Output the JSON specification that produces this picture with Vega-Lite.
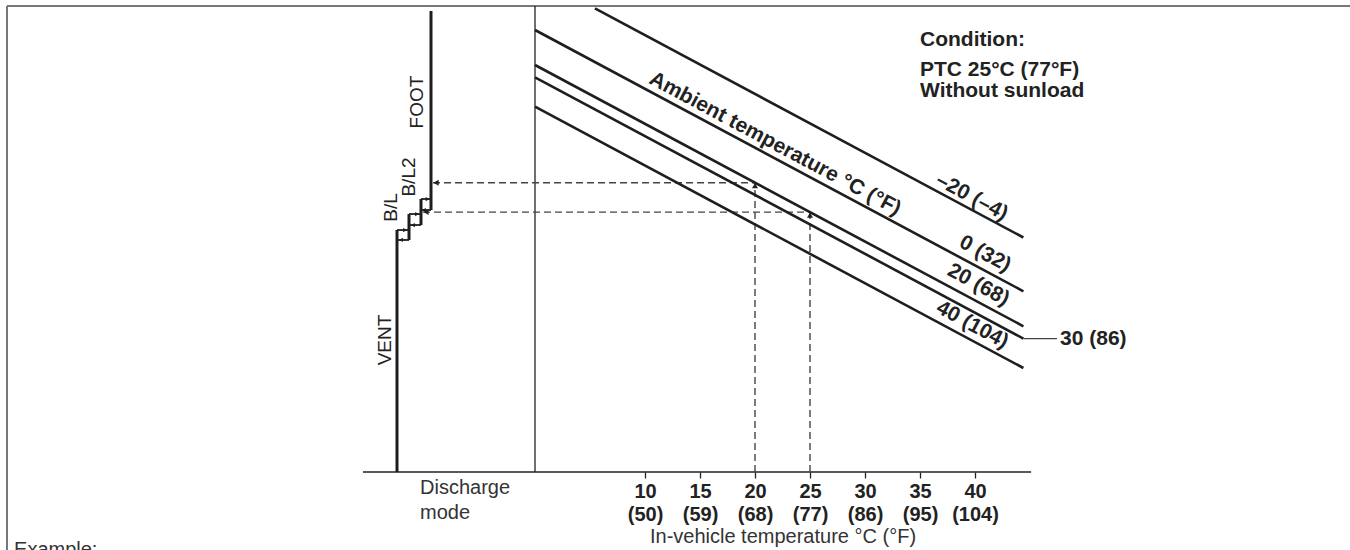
{
  "$schema": "https://vega.github.io/schema/vega-lite/v6.json",
  "width": 495,
  "height": 466,
  "autosize": {"type": "none"},
  "padding": {"left": 535, "top": 6, "right": 320, "bottom": 78},
  "background": "white",
  "config": {"view": {"stroke": null}, "font": "Liberation Sans"},
  "datasets": {
    "ambient": [
      {"amb": "-20", "t": 5.45, "s": 99.51}, {"amb": "-20", "t": 44.4, "s": 50.32},
      {"amb": "0", "t": 0, "s": 94.85}, {"amb": "0", "t": 44.4, "s": 38.78},
      {"amb": "20", "t": 0, "s": 87.34}, {"amb": "20", "t": 44.4, "s": 31.27},
      {"amb": "30", "t": 0, "s": 84.70}, {"amb": "30", "t": 44.4, "s": 28.63},
      {"amb": "40", "t": 0, "s": 78.39}, {"amb": "40", "t": 44.4, "s": 22.32}
    ],
    "ambientLabels": [
      {"label": "–20 (–4)", "t": 39.70, "s": 59.0},
      {"label": "0 (32)", "t": 40.91, "s": 46.78},
      {"label": "20 (68)", "t": 40.30, "s": 40.13},
      {"label": "40 (104)", "t": 39.75, "s": 31.55},
      {"label": "Ambient temperature °C (°F)", "t": 21.82, "s": 70.39}
    ],
    "modes": [
      {"mode": "VENT", "t": -12.545, "s": 0}, {"mode": "VENT", "t": -12.545, "s": 51.93},
      {"mode": "B/L", "t": -11.455, "s": 49.79}, {"mode": "B/L", "t": -11.455, "s": 55.36},
      {"mode": "B/L2", "t": -10.364, "s": 53.0}, {"mode": "B/L2", "t": -10.364, "s": 58.58},
      {"mode": "FOOT", "t": -9.455, "s": 56.22}, {"mode": "FOOT", "t": -9.455, "s": 98.93}
    ],
    "switches": [
      {"sw": "VENT-BL", "t": -12.545, "s": 51.93}, {"sw": "VENT-BL", "t": -11.455, "s": 51.93},
      {"sw": "BL-VENT", "t": -11.455, "s": 49.79}, {"sw": "BL-VENT", "t": -12.545, "s": 49.79},
      {"sw": "BL-BL2", "t": -11.455, "s": 55.36}, {"sw": "BL-BL2", "t": -10.364, "s": 55.36},
      {"sw": "BL2-BL", "t": -10.364, "s": 53.0}, {"sw": "BL2-BL", "t": -11.455, "s": 53.0},
      {"sw": "BL2-FOOT", "t": -10.364, "s": 58.58}, {"sw": "BL2-FOOT", "t": -9.455, "s": 58.58},
      {"sw": "FOOT-BL2", "t": -9.455, "s": 56.22}, {"sw": "FOOT-BL2", "t": -10.364, "s": 56.22}
    ],
    "switchArrows": [
      {"dir": "right", "t": -11.82, "s": 51.93}, {"dir": "left", "t": -12.18, "s": 49.79},
      {"dir": "right", "t": -10.73, "s": 55.36}, {"dir": "left", "t": -11.09, "s": 53.0},
      {"dir": "right", "t": -9.77, "s": 58.58}, {"dir": "left", "t": -10.09, "s": 56.22}
    ],
    "example": [
      {"path": "h20", "t": 20, "s": 62.08}, {"path": "h20", "t": -9.27, "s": 62.08},
      {"path": "v20", "t": 20, "s": 0}, {"path": "v20", "t": 20, "s": 62.08},
      {"path": "h25", "t": 25, "s": 55.77}, {"path": "h25", "t": -10.18, "s": 55.77},
      {"path": "v25", "t": 25, "s": 0}, {"path": "v25", "t": 25, "s": 55.77}
    ],
    "exampleArrows": [
      {"dir": "left", "t": -9.0, "s": 62.08}, {"dir": "left", "t": -9.91, "s": 55.77},
      {"dir": "up", "t": 20, "s": 61.44}, {"dir": "up", "t": 25, "s": 55.13}
    ],
    "frame": [
      {"edge": "top", "t": -48, "s": 100}, {"edge": "top", "t": 74.2, "s": 100},
      {"edge": "left", "t": -48, "s": 100}, {"edge": "left", "t": -48, "s": -17}
    ],
    "panel": [
      {"edge": "divider", "t": 0, "s": 0}, {"edge": "divider", "t": 0, "s": 100},
      {"edge": "baseline", "t": -15.64, "s": 0}, {"edge": "baseline", "t": 45.1, "s": 0}
    ],
    "leader": [{"t": 44.4, "s": 28.63}, {"t": 47.45, "s": 28.63}],
    "boldNotes": [
      {"label": "30  (86)", "t": 47.73, "s": 28.63},
      {"label": "Condition:", "t": 35, "s": 92.81},
      {"label": "PTC  25°C  (77°F)", "t": 35, "s": 86.37},
      {"label": "Without  sunload", "t": 35, "s": 81.72}
    ],
    "modeLabels": [
      {"label": "VENT", "t": -13.636, "s": 28.33},
      {"label": "FOOT", "t": -10.727, "s": 79.40},
      {"label": "B/L", "t": -13.09, "s": 56.76},
      {"label": "B/L2", "t": -11.5, "s": 63.30}
    ],
    "plainNotes": [
      {"label": "Discharge", "t": -10.45, "s": -3.43},
      {"label": "mode", "t": -10.45, "s": -8.80}
    ],
    "footNote": [{"label": "Example:", "t": -47.36, "s": -18.03}]
  },
  "encoding": {
    "x": {
      "field": "t", "type": "quantitative",
      "scale": {"domain": [0, 45], "nice": false, "zero": false},
      "axis": {
        "values": [10, 15, 20, 25, 30, 35, 40],
        "domain": false,
        "grid": false,
        "ticks": true, "tickSize": 6, "tickColor": "#222", "tickWidth": 1.3,
        "labelExpr": "[datum.label, '(' + format(datum.value * 9 / 5 + 32, 'd') + ')']",
        "labelFont": "Liberation Sans", "labelFontWeight": "bold", "labelFontSize": 20,
        "labelColor": "#222", "labelLineHeight": 23, "labelPadding": 3, "labelOverlap": false,
        "title": "In-vehicle temperature °C (°F)",
        "titleFont": "Liberation Sans", "titleFontWeight": "normal", "titleFontSize": 20,
        "titleColor": "#333", "titlePadding": 2
      }
    },
    "y": {
      "field": "s", "type": "quantitative",
      "scale": {"domain": [0, 100], "nice": false, "zero": false},
      "axis": null
    }
  },
  "layer": [
    {"data": {"name": "frame"}, "mark": {"type": "line", "stroke": "#777", "strokeWidth": 2}, "encoding": {"detail": {"field": "edge"}}},
    {"data": {"name": "panel"}, "mark": {"type": "line", "stroke": "#222", "strokeWidth": 1.3}, "encoding": {"detail": {"field": "edge"}}},
    {"data": {"name": "example"}, "mark": {"type": "line", "stroke": "#444", "strokeWidth": 1.4, "strokeDash": [7, 4]}, "encoding": {"detail": {"field": "path"}}},
    {"data": {"name": "ambient"}, "mark": {"type": "line", "stroke": "#1e1e1e", "strokeWidth": 2.6}, "encoding": {"detail": {"field": "amb"}}},
    {"data": {"name": "modes"}, "mark": {"type": "line", "stroke": "#1e1e1e", "strokeWidth": 3}, "encoding": {"detail": {"field": "mode"}}},
    {"data": {"name": "switches"}, "mark": {"type": "line", "stroke": "#1e1e1e", "strokeWidth": 1.8}, "encoding": {"detail": {"field": "sw"}}},
    {"data": {"name": "leader"}, "mark": {"type": "line", "stroke": "#444", "strokeWidth": 1.2}, "encoding": {}},
    {"data": {"name": "switchArrows"}, "transform": [{"filter": "datum.dir == 'right'"}], "mark": {"type": "point", "shape": "triangle-right", "filled": true, "color": "#1e1e1e", "size": 18, "opacity": 1}},
    {"data": {"name": "switchArrows"}, "transform": [{"filter": "datum.dir == 'left'"}], "mark": {"type": "point", "shape": "triangle-left", "filled": true, "color": "#1e1e1e", "size": 18, "opacity": 1}},
    {"data": {"name": "exampleArrows"}, "transform": [{"filter": "datum.dir == 'left'"}], "mark": {"type": "point", "shape": "triangle-left", "filled": true, "color": "#222", "size": 36, "opacity": 1}},
    {"data": {"name": "exampleArrows"}, "transform": [{"filter": "datum.dir == 'up'"}], "mark": {"type": "point", "shape": "triangle-up", "filled": true, "color": "#222", "size": 36, "opacity": 1}},
    {"data": {"name": "ambientLabels"}, "mark": {"type": "text", "font": "Liberation Sans", "fontWeight": "bold", "fontSize": 21, "color": "#222", "align": "center", "baseline": "middle", "angle": 28.15}, "encoding": {"text": {"field": "label"}}},
    {"data": {"name": "boldNotes"}, "mark": {"type": "text", "font": "Liberation Sans", "fontWeight": "bold", "fontSize": 21, "color": "#222", "align": "left", "baseline": "middle"}, "encoding": {"text": {"field": "label"}}},
    {"data": {"name": "modeLabels"}, "mark": {"type": "text", "font": "Liberation Sans", "fontSize": 19, "color": "#222", "align": "center", "baseline": "middle", "angle": -90}, "encoding": {"text": {"field": "label"}}},
    {"data": {"name": "plainNotes"}, "mark": {"type": "text", "font": "Liberation Sans", "fontSize": 20, "color": "#333", "align": "left", "baseline": "middle"}, "encoding": {"text": {"field": "label"}}},
    {"data": {"name": "footNote"}, "mark": {"type": "text", "font": "Liberation Sans", "fontSize": 20, "color": "#333", "align": "left", "baseline": "alphabetic"}, "encoding": {"text": {"field": "label"}}}
  ]
}
